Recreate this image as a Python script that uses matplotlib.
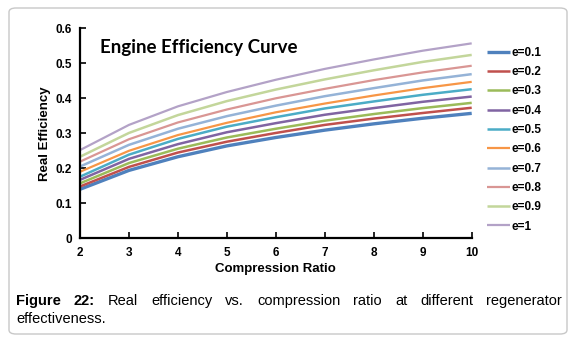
import matplotlib
matplotlib.use('Agg')
import matplotlib.pyplot as plt
from matplotlib.patches import FancyBboxPatch

FONT = 'Liberation Sans'
W, H = 580, 341

# data
ratio = [2, 3, 4, 5, 6, 7, 8, 9, 10]
labels = ['e=0.1', 'e=0.2', 'e=0.3', 'e=0.4', 'e=0.5',
          'e=0.6', 'e=0.7', 'e=0.8', 'e=0.9', 'e=1']
eff_01 = [0.140, 0.194, 0.233, 0.264, 0.288, 0.309, 0.327, 0.343, 0.357]
eff_02 = [0.148, 0.204, 0.245, 0.276, 0.301, 0.324, 0.342, 0.358, 0.373]
eff_03 = [0.157, 0.215, 0.256, 0.288, 0.313, 0.336, 0.355, 0.372, 0.387]
eff_04 = [0.167, 0.227, 0.269, 0.303, 0.329, 0.353, 0.372, 0.390, 0.405]
eff_05 = [0.176, 0.239, 0.284, 0.319, 0.346, 0.371, 0.391, 0.410, 0.426]
eff_06 = [0.190, 0.250, 0.295, 0.330, 0.360, 0.385, 0.408, 0.429, 0.447]
eff_07 = [0.205, 0.267, 0.313, 0.349, 0.379, 0.406, 0.429, 0.451, 0.469]
eff_08 = [0.219, 0.283, 0.331, 0.368, 0.400, 0.427, 0.452, 0.474, 0.493]
eff_09 = [0.233, 0.301, 0.352, 0.392, 0.425, 0.454, 0.480, 0.504, 0.524]
eff_10 = [0.252, 0.324, 0.377, 0.418, 0.453, 0.484, 0.511, 0.536, 0.557]
series = [eff_01, eff_02, eff_03, eff_04, eff_05,
          eff_06, eff_07, eff_08, eff_09, eff_10]

colors = ['#4F81BD', '#C0504D', '#9BBB59', '#8064A2', '#4BACC6',
          '#F79646', '#95B3D7', '#D99694', '#C3D69B', '#B3A2C7']
widths = [2.4, 1.8, 1.8, 1.8, 1.8, 1.6, 1.8, 1.6, 1.8, 1.6]

fig = plt.figure(figsize=(W / 100, H / 100), dpi=100)
fig.patch.set_facecolor('white')

# rounded frame round the whole figure
frame = FancyBboxPatch((9 / W, 7 / H), 558 / W, 326 / H,
                       boxstyle='round,pad=0,rounding_size=0.012',
                       transform=fig.transFigure, facecolor='none',
                       edgecolor='#C8C8C8', linewidth=1.0)
fig.patches.append(frame)

ax = fig.add_axes([80 / W, (H - 238.3) / H, (471.7 - 80) / W, 210 / H])
for vals, lab, c, lw in zip(series, labels, colors, widths):
    ax.plot(ratio, vals, color=c, lw=lw, label=lab, solid_capstyle='butt')

ax.set_xlim(2, 10)
ax.set_ylim(0, 0.6)
ax.set_xticks(range(2, 11))
ax.set_yticks([0, 0.1, 0.2, 0.3, 0.4, 0.5, 0.6])
ax.set_yticklabels(['0', '0.1', '0.2', '0.3', '0.4', '0.5', '0.6'])
for s in ['top', 'right']:
    ax.spines[s].set_visible(False)
for s in ['left', 'bottom']:
    ax.spines[s].set_linewidth(1.6)
    ax.spines[s].set_color('black')
ax.tick_params(direction='in', length=4, width=1.2, pad=6)
for t in ax.get_xticklabels() + ax.get_yticklabels():
    t.set_fontfamily(FONT)
    t.set_fontweight('bold')
    t.set_fontsize(8.5)

ax.set_xlabel('Compression Ratio', fontsize=9.5, fontweight='bold',
              fontfamily=FONT, labelpad=3)
ax.set_ylabel('Real Efficiency', fontsize=9.5, fontweight='bold',
              fontfamily=FONT, labelpad=3)

fig.text(100 / W, 1 - 47 / H, 'Engine Efficiency Curve',
         fontsize=13.5, fontweight='bold', fontfamily='Lato', ha='left', va='center')

leg = fig.legend(loc='upper left', bbox_to_anchor=(482 / W, 1 - 42 / H),
                 frameon=False, handlelength=2.0, handletextpad=0.1,
                 labelspacing=0.62, borderaxespad=0,
                 prop={'family': FONT, 'size': 8.5, 'weight': 'bold'})

# justified caption
renderer = fig.canvas.get_renderer()
words = [('Figure', 'bold'), ('22:', 'bold'), ('Real', 'normal'),
         ('efficiency', 'normal'), ('vs.', 'normal'), ('compression', 'normal'),
         ('ratio', 'normal'), ('at', 'normal'), ('different', 'normal'),
         ('regenerator', 'normal')]
x0, x1 = 16, 562
texts = [fig.text(0, 1 - 301 / H, w, fontweight=wt, fontsize=10.5,
                  fontfamily=FONT, ha='left', va='center') for w, wt in words]
ws = [t.get_window_extent(renderer).width for t in texts]
gap = (x1 - x0 - sum(ws)) / (len(words) - 1)
x = x0
for t, w in zip(texts, ws):
    t.set_x(x / W)
    x += w + gap
fig.text(x0 / W, 1 - 319 / H, 'effectiveness.', fontsize=10.5, fontfamily=FONT,
         ha='left', va='center')

fig.savefig('out.png', dpi=100, facecolor='white')
